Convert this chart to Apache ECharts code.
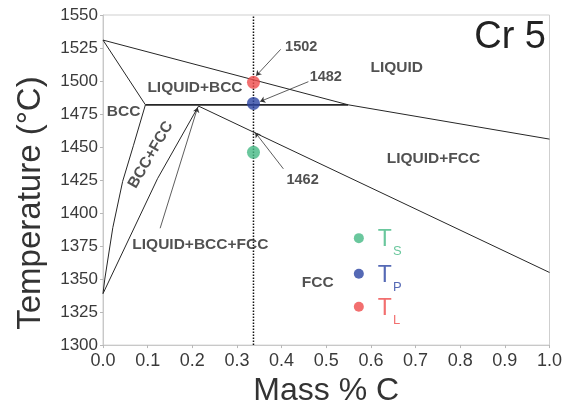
<!DOCTYPE html>
<html>
<head>
<meta charset="utf-8">
<script src="https://cdn.jsdelivr.net/npm/echarts@6/dist/echarts.min.js"></script>
<style>
html,body{margin:0;padding:0;background:#fff;}
#chart{width:565px;height:412px;}
</style>
</head>
<body>
<div id="chart"></div>
<script>
// ---- data (mass % C, temperature °C) ----
const xTicks = [0.0, 0.1, 0.2, 0.3, 0.4, 0.5, 0.6, 0.7, 0.8, 0.9, 1.0];
const yTicks = [1300, 1325, 1350, 1375, 1400, 1425, 1450, 1475, 1500, 1525, 1550];

const bccLiquidus = [[0, 1531], [0.549, 1482]];
const fccLiquidus = [[0.549, 1482], [1.0, 1456]];
const bccSolidus = [[0, 1531], [0.095, 1482]];
const peritecticLine = [[0.095, 1482], [0.549, 1482]];
const fccSolidus = [[0.214, 1481], [1.0, 1355]];
const bccSolvus = [[0.095, 1482], [0.068, 1451], [0.044, 1424], [0.022, 1389], [0.004, 1350], [0, 1339]];
const fccSolvus = [[0.214, 1481], [0.122, 1426], [0, 1339]];

const alloyCarbon = 0.337;
const alloyLine = [[alloyCarbon, 1300], [alloyCarbon, 1550]];

const pointNames = ['TS', 'TP', 'TL'];
const pointTemps = [1446, 1483, 1499];
const pointColors = ['#45b984', '#2b43a3', '#ef4b4b'];

const legendX = 0.573;
const legendTemps = [1381, 1354, 1329];
const legendSubs = ['S', 'P', 'L'];

const regionLabels = ['LIQUID', 'LIQUID+BCC', 'BCC', 'BCC+FCC', 'LIQUID+FCC', 'LIQUID+BCC+FCC', 'FCC'];
const regionAnchors = [[0.658, 1510], [0.206, 1495], [0.046, 1477], [0.107, 1444], [0.74, 1441], [0.218, 1376], [0.481, 1347]];
const regionRotate = [0, 0, 0, 60, 0, 0, 0];

const valueLabels = ['1502', '1482', '1462'];
const valueAnchors = [[0.444, 1525.5], [0.499, 1502.7], [0.447, 1425]];

const leaderLines = [
  [[0.398, 1524], [0.343, 1504]],
  [[0.46, 1499.5], [0.352, 1484.5]],
  [[0.404, 1433.5], [0.341, 1461]],
  [[0.128, 1388.5], [0.212, 1480]]
];

// ---- chart ----
const chart = echarts.init(document.getElementById('chart'), null, {renderer: 'canvas'});
const FONT = '"Liberation Sans", Arial, sans-serif';

function boundary(data, width) {
  return {
    type: 'line', data: data, symbol: 'none', silent: true,
    lineStyle: {color: '#262626', width: width || 1}, z: 3
  };
}

const option = {
  animation: false,
  textStyle: {fontFamily: FONT},
  title: {
    text: 'Cr 5', right: 19, top: 19, padding: 0,
    textStyle: {fontSize: 38, fontWeight: 'normal', color: '#222', fontFamily: FONT}
  },
  grid: {left: 103, right: 12, top: 15, bottom: 64, show: true, borderColor: '#cfcfcf', borderWidth: 1},
  xAxis: {
    type: 'value', min: xTicks[0], max: xTicks[xTicks.length - 1], interval: 0.1,
    axisLine: {lineStyle: {color: '#c8c8c8'}},
    axisTick: {length: 3, lineStyle: {color: '#b8b8b8'}},
    splitLine: {show: false},
    axisLabel: {formatter: v => v.toFixed(1), fontSize: 18, color: '#3a3a3a', margin: 7, fontFamily: FONT},
    name: 'Mass % C', nameLocation: 'middle', nameGap: 29,
    nameTextStyle: {fontSize: 32, color: '#333', fontFamily: FONT}
  },
  yAxis: {
    type: 'value', min: yTicks[0], max: yTicks[yTicks.length - 1], interval: 25,
    axisLine: {show: true, lineStyle: {color: '#c8c8c8'}},
    axisTick: {show: true, length: 3, lineStyle: {color: '#b8b8b8'}},
    splitLine: {show: false},
    axisLabel: {formatter: v => String(Math.round(v)), fontSize: 17, color: '#3a3a3a', margin: 5, fontFamily: FONT},
    name: 'Temperature (°C)', nameLocation: 'middle', nameGap: 56, nameRotate: 90,
    nameTextStyle: {fontSize: 33, color: '#333', fontFamily: FONT, padding: [0, 46, 0, 0]}
  },
  series: [
    boundary(bccLiquidus),
    boundary(fccLiquidus),
    boundary(bccSolidus),
    boundary(peritecticLine, 1.8),
    boundary(fccSolidus),
    boundary(bccSolvus),
    boundary(fccSolvus),
    {
      type: 'line', data: alloyLine, symbol: 'none', silent: true, z: 2,
      lineStyle: {color: '#111', width: 1.5, type: [1.5, 1.5]}
    },
    {
      type: 'lines', coordinateSystem: 'cartesian2d', silent: true, z: 4,
      symbol: ['none', 'arrow'], symbolSize: 5,
      lineStyle: {color: '#333', width: 0.8, opacity: 1},
      data: leaderLines.map(c => ({coords: c}))
    },
    {
      type: 'scatter', symbolSize: 13, z: 6, silent: true,
      data: pointNames.map((n, i) => ({name: n, value: [alloyCarbon, pointTemps[i]], itemStyle: {color: pointColors[i]}}))
    },
    {
      type: 'scatter', symbolSize: 10, z: 6, silent: true,
      data: legendSubs.map((s, i) => ({
        name: s, value: [legendX, legendTemps[i]], itemStyle: {color: pointColors[i]},
        label: {
          show: true, position: 'right', distance: 14,
          formatter: '{t|T}{s|' + s + '}',
          rich: {
            t: {fontSize: 23, color: pointColors[i], fontFamily: FONT, lineHeight: 26, verticalAlign: 'bottom'},
            s: {fontSize: 13, color: pointColors[i], fontFamily: FONT, padding: [0, 0, -7, 1], verticalAlign: 'bottom'}
          }
        }
      }))
    },
    {
      type: 'scatter', symbolSize: 1, z: 7, silent: true,
      itemStyle: {color: 'rgba(0,0,0,0)'},
      label: {show: true, position: 'inside', formatter: p => p.name, fontSize: 15.5, fontWeight: 'bold', color: '#262626', fontFamily: FONT},
      data: regionLabels.map((t, i) => ({name: t, value: regionAnchors[i], label: {rotate: regionRotate[i]}}))
    },
    {
      type: 'scatter', symbolSize: 1, z: 7, silent: true,
      itemStyle: {color: 'rgba(0,0,0,0)'},
      label: {show: true, position: 'inside', formatter: p => p.name, fontSize: 14.5, fontWeight: 'bold', color: '#262626', fontFamily: FONT},
      data: valueLabels.map((t, i) => ({name: t, value: valueAnchors[i]}))
    }
  ]
};
chart.setOption(option);
</script>
</body>
</html>
